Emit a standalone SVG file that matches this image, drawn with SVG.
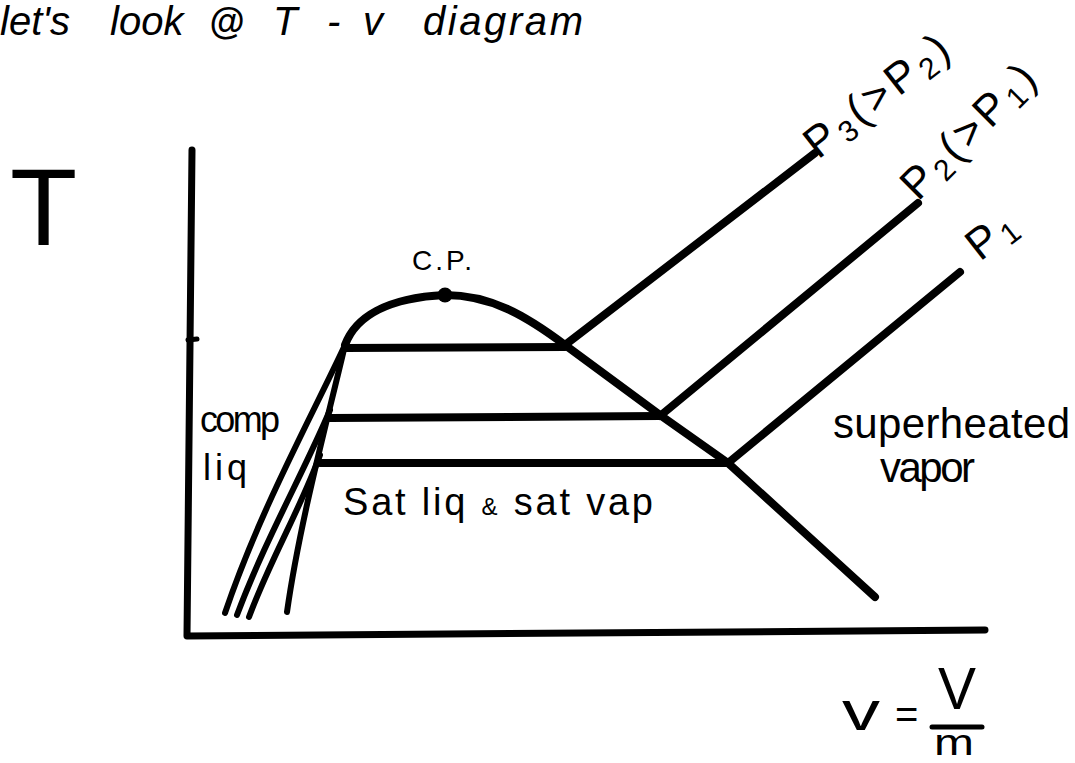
<svg xmlns="http://www.w3.org/2000/svg" width="1075" height="763" viewBox="0 0 1075 763">
<style>
.ln{fill:none;stroke:#000;stroke-linecap:round;stroke-linejoin:round}
.thick{stroke-width:8}
.ax{stroke-width:7}
.mid{stroke-width:6}
.t{font-family:"Liberation Sans",Arial,sans-serif;fill:#000}
</style>
<rect width="1075" height="763" fill="#fff"/>
<g id="title" class="t" font-style="italic" font-size="40">
<text x="0" y="35">let's</text>
<text x="110" y="35">look</text>
<text x="209" y="34" font-size="36" font-weight="bold">@</text>
<text x="273" y="35">T</text>
<text x="327" y="35">-</text>
<text x="363" y="35">v</text>
<text x="423" y="35" textLength="160">diagram</text>
</g>
<g id="axes">
<path class="ln ax" d="M192,150 L187,636 L985,630"/>
<path class="ln" stroke-width="5" d="M188,340 L197,339"/>
<text class="t" x="10" y="245" font-size="110">T</text>
</g>
<g id="dome">
<path class="ln thick" d="M345,345 C355,318 385,298 445,295 C490,295 525,315 565,345 L660,415 L728,463 L875,597"/>
<circle cx="445" cy="295" r="7.5" fill="#000"/>
<text class="t" x="412" y="270" font-size="28" textLength="60">C.P.</text>
</g>
<g id="isobars">
<path class="ln thick" d="M345,348 L565,347"/>
<path class="ln thick" d="M330,418 L660,416"/>
<path class="ln thick" d="M320,463 L728,463"/>
<path class="ln thick" d="M565,345 L815,153"/>
<path class="ln thick" d="M660,416 L918,203"/>
<path class="ln thick" d="M728,463 L960,272"/>
<path class="ln mid" d="M345,345 C330,410 300,520 287,612"/>
<path class="ln mid" d="M345,345 C310,420 260,510 225,613"/>
<path class="ln mid" d="M330,410 C305,470 265,540 237,615"/>
<path class="ln mid" d="M320,455 C300,510 270,560 249,617"/>
</g>
<g id="label-p3" class="t" font-size="44" transform="translate(818,160) rotate(-38)">
<text x="0" y="0" letter-spacing="4">P<tspan font-size="30" dy="6">3</tspan><tspan dy="-6">(&gt;P</tspan><tspan font-size="30" dy="6">2</tspan><tspan dy="-6">)</tspan></text>
</g>
<g id="label-p2" class="t" font-size="44" transform="translate(918,202) rotate(-45)">
<text x="0" y="0" letter-spacing="4">P<tspan font-size="30" dy="6">2</tspan><tspan dy="-6">(&gt;P</tspan><tspan font-size="30" dy="6">1</tspan><tspan dy="-6">)</tspan></text>
</g>
<g id="label-p1" class="t" font-size="44" transform="translate(980,262) rotate(-38)">
<text x="0" y="0" letter-spacing="4">P<tspan font-size="30" dy="6">1</tspan></text>
</g>
<g id="regions" class="t">
<text x="200" y="432" font-size="36" textLength="80">comp</text>
<text x="203" y="480" font-size="36" textLength="44">liq</text>
<text x="343" y="515" font-size="38" textLength="310">Sat liq <tspan font-size="24">&amp;</tspan> sat vap</text>
<text x="833" y="438" font-size="42" textLength="237">superheated</text>
<text x="880" y="482" font-size="42" textLength="95">vapor</text>
</g>
<g id="v-def" class="t">
<text x="842" y="730" font-size="56" textLength="38" lengthAdjust="spacingAndGlyphs">v</text>
<text x="895" y="728" font-size="40">=</text>
<text x="938" y="709" font-size="60" textLength="38" lengthAdjust="spacingAndGlyphs">V</text>
<path class="ln" stroke-width="5" d="M932,727 L982,727"/>
<text x="934" y="755" font-size="36" textLength="40" lengthAdjust="spacingAndGlyphs">m</text>
</g>
</svg>
